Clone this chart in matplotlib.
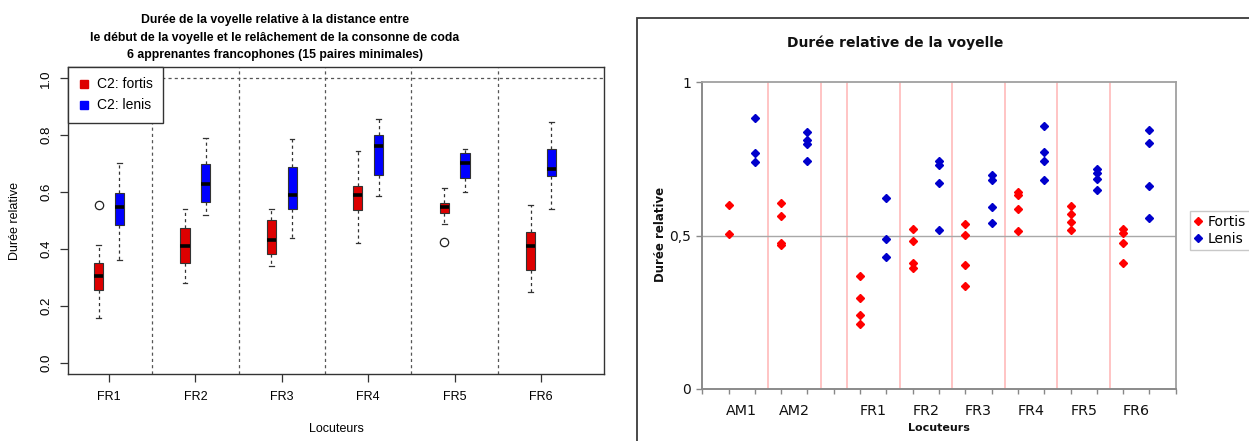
import matplotlib
matplotlib.use("Agg")
import matplotlib.pyplot as plt
from matplotlib.lines import Line2D
from matplotlib.patches import Rectangle

# ---------------- data: left panel (box plots) ----------------
speakers_fr = ["FR1", "FR2", "FR3", "FR4", "FR5", "FR6"]
fortis_whislo = [0.156, 0.280, 0.339, 0.422, 0.486, 0.248]
fortis_q1     = [0.257, 0.351, 0.383, 0.537, 0.527, 0.327]
fortis_med    = [0.303, 0.411, 0.430, 0.588, 0.548, 0.410]
fortis_q3     = [0.351, 0.473, 0.502, 0.622, 0.562, 0.459]
fortis_whishi = [0.415, 0.541, 0.540, 0.743, 0.613, 0.555]
fortis_fliers = [[0.555], [], [], [], [0.426], []]

lenis_whislo = [0.361, 0.520, 0.440, 0.587, 0.599, 0.542]
lenis_q1     = [0.483, 0.564, 0.540, 0.661, 0.651, 0.655]
lenis_med    = [0.547, 0.627, 0.591, 0.762, 0.704, 0.681]
lenis_q3     = [0.598, 0.700, 0.688, 0.800, 0.736, 0.751]
lenis_whishi = [0.703, 0.791, 0.786, 0.857, 0.751, 0.845]
lenis_fliers = [[], [], [], [], [], []]

left_title = ("Durée de la voyelle relative à la distance entre\n"
              "le début de la voyelle et le relâchement de la consonne de coda\n"
              "6 apprenantes francophones (15 paires minimales)")
left_legend = ["C2: fortis", "C2: lenis"]

# ---------------- data: right panel (points) ----------------
speakers_all = ["AM1", "AM2", "FR1", "FR2", "FR3", "FR4", "FR5", "FR6"]
fortis_pts = [
    [0.600, 0.507],
    [0.607, 0.565, 0.477, 0.470],
    [0.367, 0.296, 0.240, 0.211],
    [0.521, 0.482, 0.410, 0.396],
    [0.538, 0.503, 0.405, 0.336],
    [0.641, 0.632, 0.586, 0.516],
    [0.598, 0.570, 0.546, 0.518],
    [0.521, 0.508, 0.476, 0.411],
]
lenis_pts = [
    [0.884, 0.768, 0.740],
    [0.838, 0.813, 0.799, 0.744],
    [0.624, 0.489, 0.429],
    [0.744, 0.730, 0.671, 0.518],
    [0.697, 0.681, 0.594, 0.542],
    [0.856, 0.773, 0.745, 0.680],
    [0.718, 0.703, 0.685, 0.648],
    [0.843, 0.802, 0.662, 0.557],
]
# category slot of the Fortis column for each speaker (Lenis is the next slot)
slot_fortis = [1, 3, 6, 8, 10, 12, 14, 16]
separators = [2.5, 4.5, 5.5, 7.5, 9.5, 11.5, 13.5, 15.5]

W, H = 1249, 441
fig = plt.figure(figsize=(W / 100, H / 100), dpi=100)

def fx(px):
    return px / W

def fy(py):
    return 1 - py / H

sansR = ["Liberation Sans", "DejaVu Sans"]
red_box = "#DD0000"
blue_box = "#0000FF"

# ================= left panel =================
axL = fig.add_axes([fx(68), fy(374), fx(604) - fx(68), fy(67) - fy(374)])
groups = list(range(1, len(speakers_fr) + 1))
off = 0.12
bw = 0.105

def make_stats(lo, q1, med, q3, hi, fl):
    return [dict(whislo=a, q1=b, med=c, q3=d, whishi=e, fliers=f)
            for a, b, c, d, e, f in zip(lo, q1, med, q3, hi, fl)]

common = dict(
    widths=bw, patch_artist=True, showfliers=True, capwidths=bw * 0.5,
    medianprops=dict(color="black", lw=2.6, solid_capstyle="butt"),
    whiskerprops=dict(color="#333333", lw=0.9, linestyle=(0, (2.5, 2.5))),
    capprops=dict(color="#333333", lw=0.9),
    flierprops=dict(marker="o", mfc="none", mec="#222222", ms=6, mew=0.9),
)
bpF = axL.bxp(make_stats(fortis_whislo, fortis_q1, fortis_med, fortis_q3,
                         fortis_whishi, fortis_fliers),
              positions=[g - off for g in groups], **common)
bpL = axL.bxp(make_stats(lenis_whislo, lenis_q1, lenis_med, lenis_q3,
                         lenis_whishi, lenis_fliers),
              positions=[g + off for g in groups], **common)
for b in bpF["boxes"]:
    b.set_facecolor(red_box); b.set_edgecolor("#333333"); b.set_linewidth(0.8)
for b in bpL["boxes"]:
    b.set_facecolor(blue_box); b.set_edgecolor("#333333"); b.set_linewidth(0.8)

for s in [g + 0.5 for g in groups[:-1]]:
    axL.axvline(s, color="#555555", lw=0.9, ls=(0, (2.5, 2.5)), zorder=0.5)
axL.axhline(1.0, color="#555555", lw=0.9, ls=(0, (2.5, 2.5)), zorder=0.5)

axL.set_xlim(0.526, 6.728)
axL.set_ylim(-0.04, 1.04)
axL.set_xticks(groups)
axL.set_xticklabels(speakers_fr, family=sansR, fontsize=9)
yt = [0.0, 0.2, 0.4, 0.6, 0.8, 1.0]
axL.set_yticks(yt)
axL.set_yticklabels([f"{v:.1f}" for v in yt], family=sansR, fontsize=9.5,
                    rotation=90, va="center")
axL.tick_params(axis="both", length=5.5, width=0.9, color="#333333")
axL.tick_params(axis="x", pad=7)
axL.tick_params(axis="y", pad=6)
for sp in axL.spines.values():
    sp.set_color("#333333"); sp.set_linewidth(1.0)

fig.text(fx(275), fy(37.5), left_title, ha="center", va="center",
         family=sansR, fontsize=8.8, fontweight="bold", linespacing=1.65)
fig.text(fx(336), fy(429), "Locuteurs", ha="center", va="center",
         family=sansR, fontsize=9)
fig.text(fx(15), fy(221), "Durée relative", ha="center", va="center",
         rotation=90, family=sansR, fontsize=9)

hF = Line2D([], [], marker="s", ls="none", mfc=red_box, mec=red_box, ms=5.5)
hL = Line2D([], [], marker="s", ls="none", mfc=blue_box, mec=blue_box, ms=5.5)
legL = axL.legend([hF, hL], left_legend, loc="upper left", bbox_to_anchor=(0, 1),
                  borderaxespad=0, fancybox=False, framealpha=1,
                  edgecolor="#333333", prop=dict(family=sansR, size=10),
                  handlelength=0.8, handletextpad=0.55, borderpad=0.75,
                  labelspacing=0.5)
legL.get_frame().set_linewidth(1.0)
legL.set_zorder(10)

# ================= right panel =================
# chart-area frame
fig.patches.append(Rectangle((fx(637), -0.05), 1.0, fy(18) + 0.05,
                             transform=fig.transFigure, fill=False,
                             edgecolor="#3a3a3a", lw=1.3, clip_on=False))

axR = fig.add_axes([fx(702.3), fy(389), fx(1175.7) - fx(702.3), fy(82.3) - fy(389)])
red_pt = "#FF0000"
blue_pt = "#0000CC"
for sx, fv, lv in zip(slot_fortis, fortis_pts, lenis_pts):
    axR.plot([sx] * len(fv), fv, ls="none", marker="D", ms=4.2,
             mfc=red_pt, mec=red_pt, zorder=3)
    axR.plot([sx + 1] * len(lv), lv, ls="none", marker="D", ms=4.2,
             mfc=blue_pt, mec=blue_pt, zorder=3)
for s in separators:
    axR.axvline(s, color="#FFC4C4", lw=1.4, zorder=1)
axR.axhline(0.5, color="#A8A8A8", lw=1.0, zorder=1)

axR.set_xlim(0, 18)
axR.set_ylim(0, 1)
axR.set_xticks(range(0, 19))
axR.set_xticklabels([])
axR.set_xticks([s + 0.5 for s in slot_fortis], minor=True)
axR.set_xticklabels(speakers_all, minor=True, fontsize=10.3, color="#111111")
axR.tick_params(axis="x", which="major", length=3.5, width=1, color="#888888",
                direction="out")
axR.tick_params(axis="x", which="minor", length=0, pad=11)
axR.set_yticks([0, 0.5, 1])
axR.set_yticklabels(["0", "0,5", "1"], fontsize=10, color="#111111")
axR.tick_params(axis="y", length=4, width=1, color="#888888", pad=4)
for k in ("left", "bottom"):
    axR.spines[k].set_color("#8a8a8a"); axR.spines[k].set_linewidth(1.4)
for k in ("top", "right"):
    axR.spines[k].set_color("#a0a0a0"); axR.spines[k].set_linewidth(1.3)

fig.text(fx(895), fy(43), "Durée relative de la voyelle", ha="center",
         va="center", fontsize=10, fontweight="bold", color="#111111")
fig.text(fx(939), fy(428), "Locuteurs", ha="center", va="center",
         fontsize=8, fontweight="bold", color="#111111")
fig.text(fx(661), fy(234), "Durée relative", ha="center", va="center",
         rotation=90, fontsize=8.5, fontweight="bold", color="#111111")

hRF = Line2D([], [], marker="D", ls="none", mfc=red_pt, mec=red_pt, ms=4)
hRL = Line2D([], [], marker="D", ls="none", mfc=blue_pt, mec=blue_pt, ms=4)
legR = fig.legend([hRF, hRL], ["Fortis", "Lenis"], loc="upper left",
                  bbox_to_anchor=(fx(1190), fy(210.5)), borderaxespad=0,
                  fancybox=False, framealpha=1, edgecolor="#c8c8c8",
                  fontsize=10, handlelength=0.6, handletextpad=0.4,
                  borderpad=0.3, labelspacing=0.25)
legR.get_frame().set_linewidth(1.0)

fig.savefig("out.png", dpi=100)
